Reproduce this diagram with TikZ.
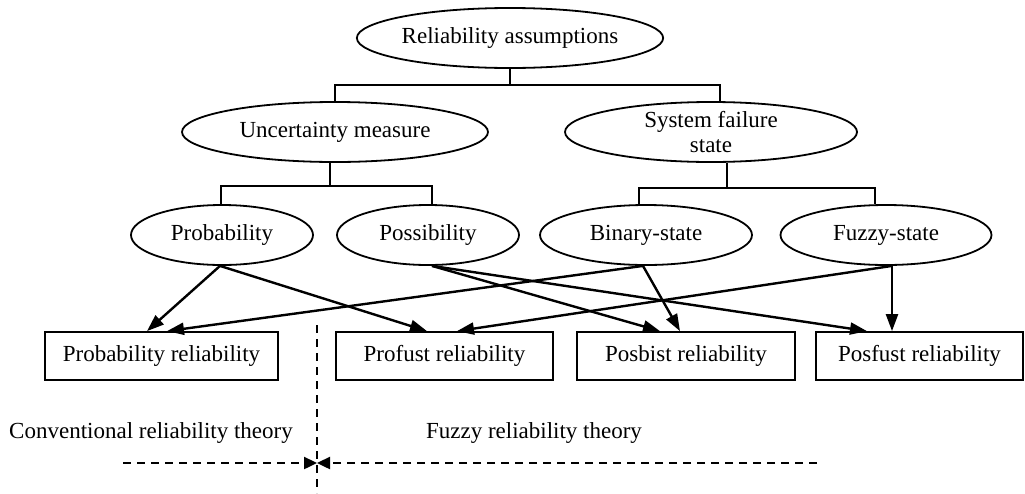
\documentclass[tikz,border=0pt]{standalone}
\usepackage{fontspec}
\setmainfont{Liberation Serif}
\usetikzlibrary{shapes.geometric,arrows.meta}
\tikzset{
  ell/.style={draw,ellipse,line width=1.8pt,inner sep=0pt,minimum height=60,align=center,font=\fontsize{23}{25.5}\selectfont},
  box/.style={draw,rectangle,line width=1.8pt,inner sep=0pt,minimum height=48,font=\fontsize{23}{25.5}\selectfont},
  tree/.style={line width=1.8pt},
  arr/.style={line width=2.4pt,-{Triangle[length=17,width=12]}},
  dsh/.style={line width=2.4pt,dash pattern=on 8pt off 6pt},
  darr/.style={dsh,-{Triangle[length=13,width=12]}},
  lbl/.style={font=\fontsize{23}{25.5}\selectfont,inner sep=0pt}
}
\begin{document}
\begin{tikzpicture}[x=1pt,y=-1pt]
\useasboundingbox (0,0) rectangle (1025,493);
% ellipses
\node[ell,minimum width=284] (top) at (510,38) {Reliability assumptions};
\node[ell,minimum width=306] (unc) at (335,132) {Uncertainty measure};
\node[ell,minimum width=292] (sys) at (711,132) {System failure\\state};
\node[ell,minimum width=182] (prob) at (222,235) {Probability};
\node[ell,minimum width=182] (poss) at (428,235) {Possibility};
\node[ell,minimum width=212] (bin) at (646,235) {Binary-state};
\node[ell,minimum width=211] (fuz) at (886,235) {Fuzzy-state};
% boxes
\node[box,minimum width=233] (prel) at (161.5,356) {Probability reliability};
\node[box,minimum width=217] (prof) at (444.5,356) {Profust reliability};
\node[box,minimum width=218] (posb) at (686,356) {Posbist reliability};
\node[box,minimum width=207] (posf) at (919.5,356) {Posfust reliability};
% tree connectors
\coordinate (j1) at (510,85);
\draw[tree] (top.south) -- (j1);
\draw[tree] (unc.north) |- (j1) -| ([xshift=9]sys.north);
\coordinate (j2) at (330,186);
\draw[tree] ([xshift=-5]unc.south) -- (j2);
\draw[tree] ([xshift=-1]prob.north) |- (j2) -| ([xshift=4]poss.north);
\coordinate (j3) at (727,188);
\draw[tree] ([xshift=16]sys.south) -- (j3);
\draw[tree] ([xshift=-7]bin.north) |- (j3) -| ([xshift=-11]fuz.north);
% arrows
\draw[arr] ([xshift=-2]prob.south) -- ([xshift=-14.5]prel.north);
\draw[arr] ([xshift=-2]prob.south) -- ([xshift=-17.5]prof.north);
\draw[arr] ([xshift=4]poss.south) -- ([xshift=-26]posb.north);
\draw[arr] ([xshift=4]poss.south) -- ([xshift=-52.5]posf.north);
\draw[arr] ([xshift=-3]bin.south) -- ([xshift=5.5]prel.north);
\draw[arr] ([xshift=-3]bin.south) -- ([xshift=-6]posb.north);
\draw[arr] ([xshift=6]fuz.south) -- ([xshift=12.5]prof.north);
\draw[arr] ([xshift=6]fuz.south) -- ([xshift=-27.5]posf.north);
% dashed divider
\coordinate (dtop) at (317,325);
\coordinate (dbot) at (317,493);
\coordinate (mid) at (317,463);
\coordinate (dl) at (123,463);
\coordinate (dr) at (817,463);
\draw[dsh] (dtop) -- (dbot);
\draw[darr] (dl) -- (mid);
\draw[darr] (dr) -- (mid);
\node[lbl] (conv) at (151,433) {Conventional reliability theory};
\node[lbl] (fuzzy) at (534,433) {Fuzzy reliability theory};
\end{tikzpicture}
\end{document}
